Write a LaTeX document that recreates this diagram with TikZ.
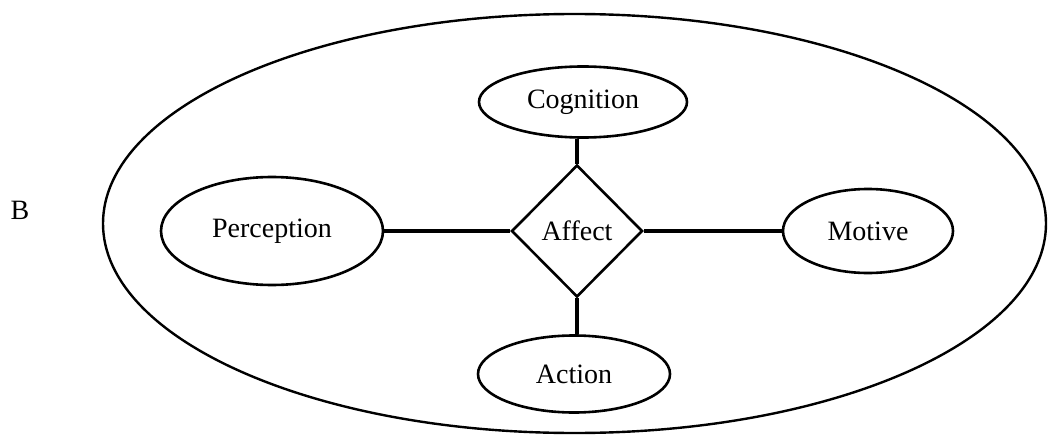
\documentclass[tikz,border=0pt]{standalone}
\usepackage{fontspec}
\setmainfont{Liberation Serif}
\usetikzlibrary{shapes.geometric}
\begin{document}
\begin{tikzpicture}[x=1pt,y=-1pt,
  every node/.style={font=\fontsize{28}{30}\selectfont, inner sep=0pt},
  bubble/.style={ellipse, draw, line width=2.6pt},
  rhomb/.style={diamond, draw, line width=2.6pt, minimum width=131pt, minimum height=132pt},
  link/.style={line width=3.2pt},
  hlink/.style={line width=4.2pt}]
\useasboundingbox (0,0) rectangle (1049,441);
\node[ellipse, draw, line width=2.4pt, minimum width=943pt, minimum height=419pt] (outer) at (574.5,223.5) {};
\node (B) at (20,210) {B};
\node[bubble, minimum width=208pt, minimum height=71pt] (cog) at (583,102) {Cognition};
\node[bubble, minimum width=222pt, minimum height=108pt] (per) at (272,231) {Perception};
\node[bubble, minimum width=170pt, minimum height=84pt] (mot) at (868,231) {Motive};
\node[bubble, minimum width=192pt, minimum height=77pt] (act) at (574,374) {Action};
\node[rhomb] (aff) at (577,231) {Affect};
\draw[link] (aff.north) -- (aff.north |- cog.south);
\draw[link] (aff.south) -- (aff.south |- act.north);
\draw[hlink] (per.east) -- (aff.west);
\draw[hlink] (aff.east) -- (mot.west);
\end{tikzpicture}
\end{document}
